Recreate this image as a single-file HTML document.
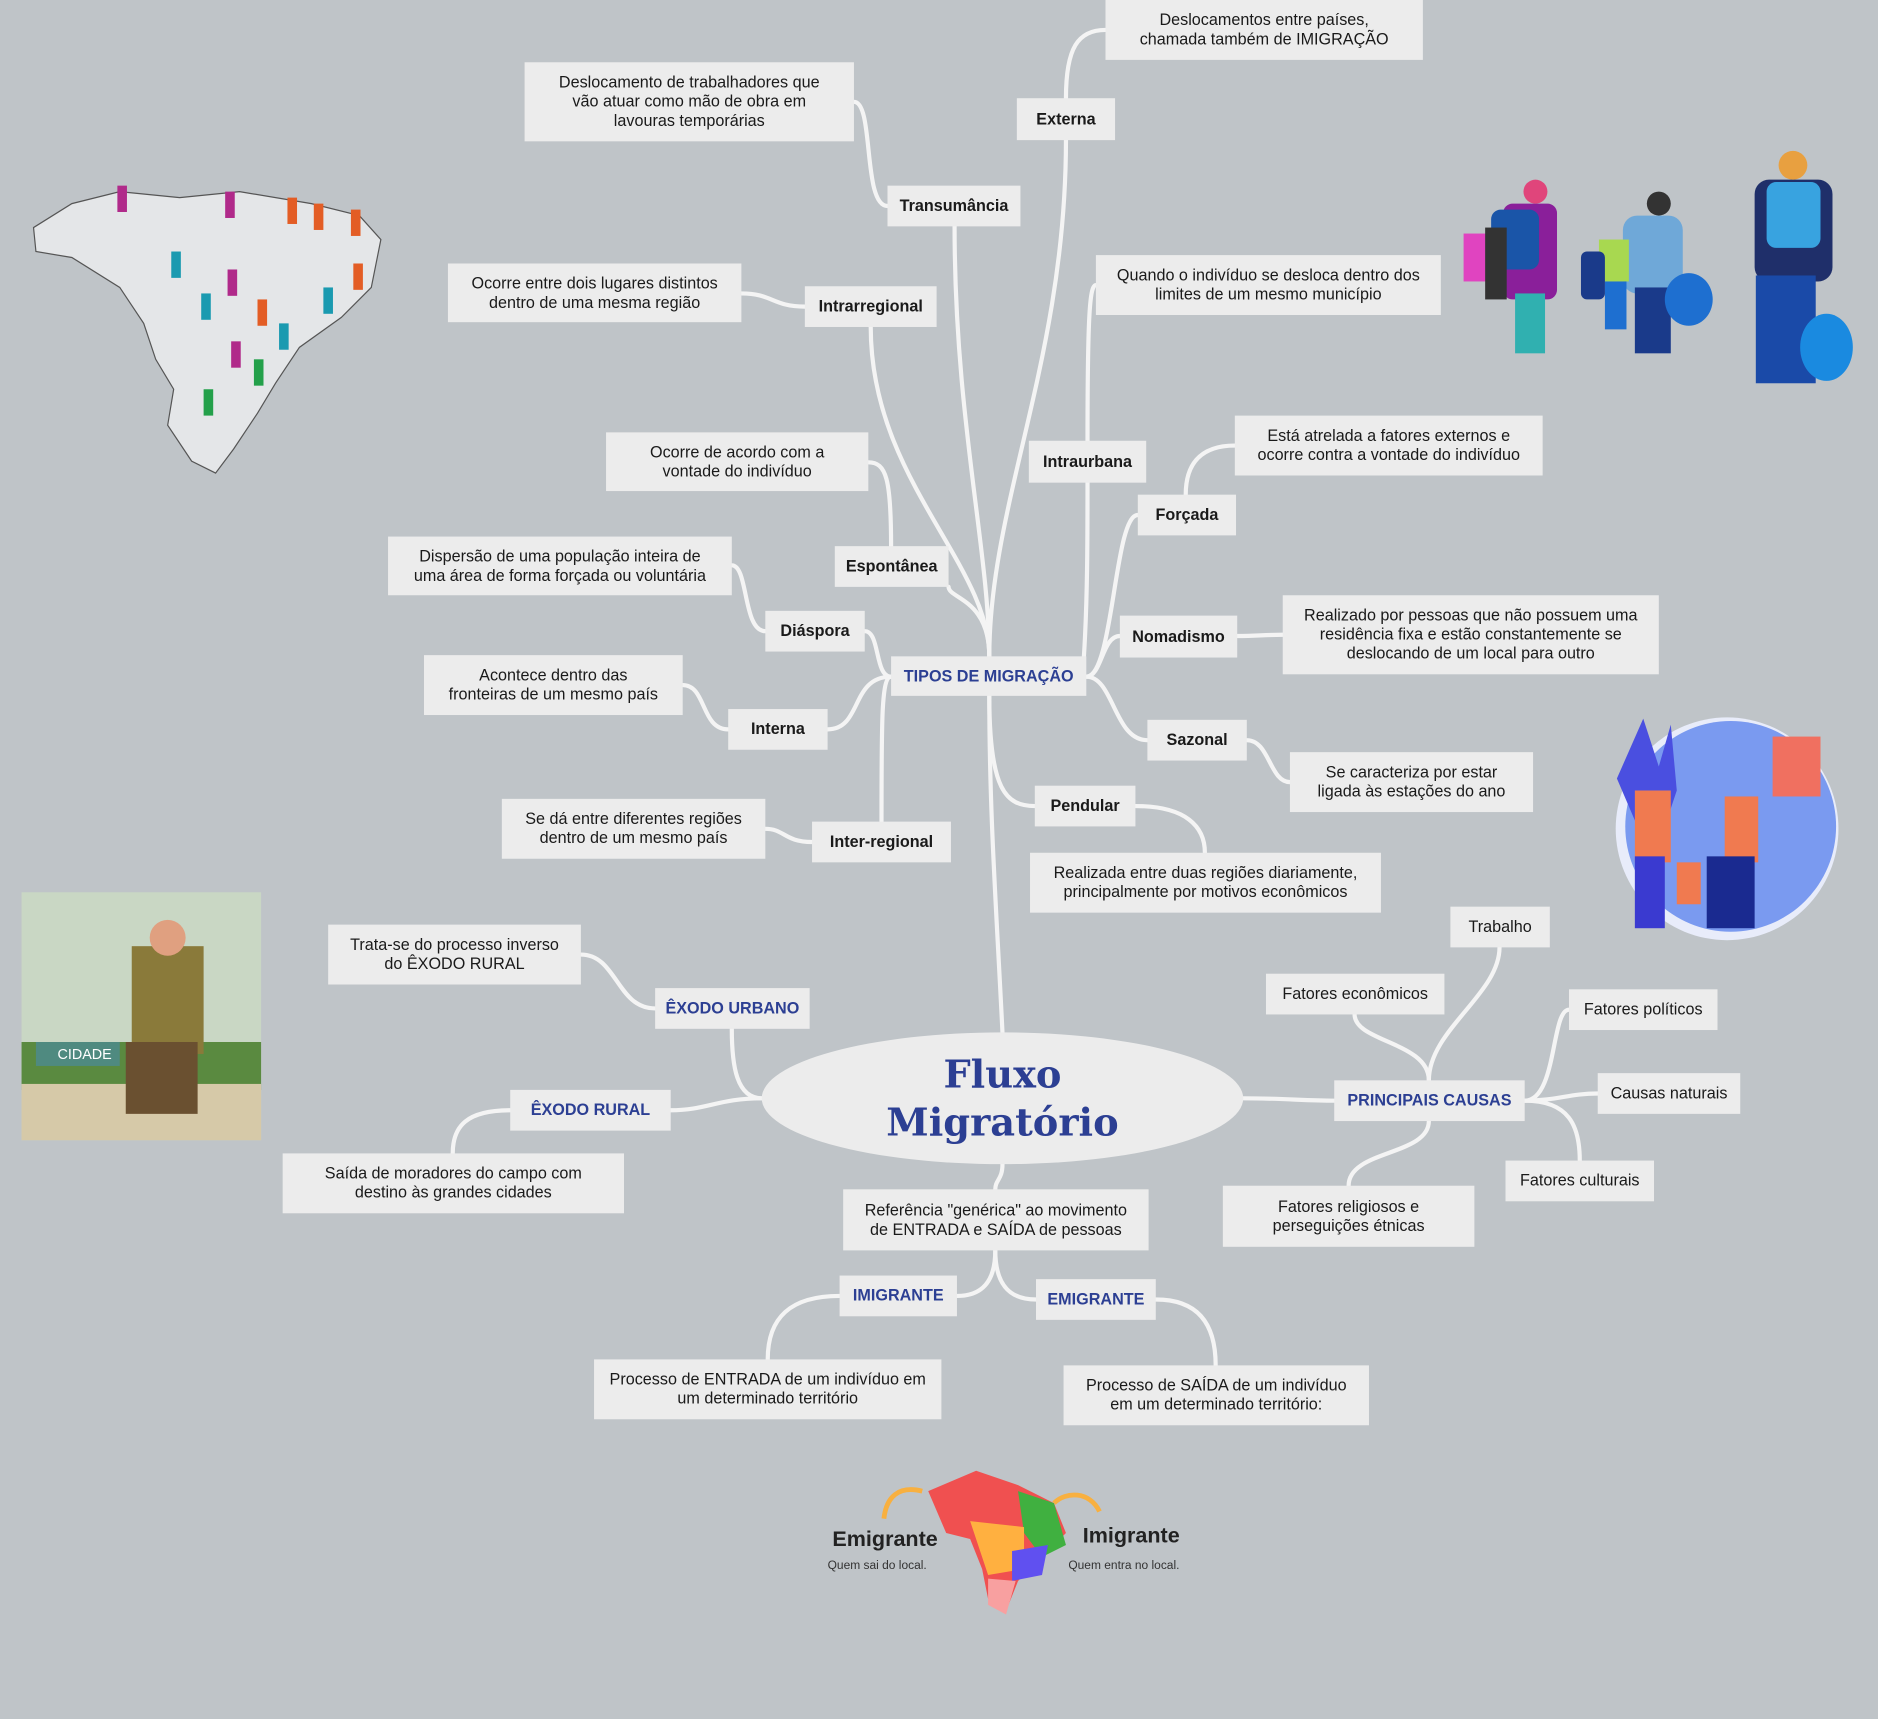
<!DOCTYPE html>
<html><head><meta charset="utf-8">
<style>
html,body{margin:0;padding:0;background:#bfc4c8;}
#wrap{position:absolute;left:0;top:0;width:1568px;height:1435px;transform:scale(1.19770);transform-origin:0 0;overflow:hidden;background:#bfc4c8;font-family:"Liberation Sans",sans-serif;}
.n{position:absolute;background:#ececec;display:flex;align-items:center;justify-content:center;text-align:center;font-size:13.5px;line-height:16px;color:#1a1a1a;box-sizing:border-box;padding:0 4px;white-space:nowrap;}
.b{font-weight:bold;font-size:13.5px;}
.t{font-weight:bold;color:#2c3f93;}
svg{position:absolute;left:0;top:0;}
</style></head><body>
<div id="wrap">
<svg width="1568" height="1435" viewBox="0 0 1568 1435">
<g fill="none" stroke="#f4f4f4" stroke-width="3.5" stroke-linecap="round">
<path d="M837 862 C832 760 826 680 826 581"/>
<path d="M826 548 C826 420 890 300 890 117"/>
<path d="M826 548 C826 460 797 350 797 189"/>
<path d="M826 548 C826 470 727 400 727 273"/>
<path d="M905 548 C908 500 908 450 908 403"/>
<path d="M826 548 C826 500 792 500 792 490"/>
<path d="M907 565 C930 565 930 430 950 430"/>
<path d="M907 565 C920 565 920 531 935 531"/>
<path d="M907 565 C930 565 930 618 958 618"/>
<path d="M826 581 C826 660 840 673 864 673"/>
<path d="M744 565 C736 565 736 600 736 686"/>
<path d="M744 565 C710 565 720 609 691 609"/>
<path d="M744 565 C730 565 735 527 722 527"/>
<path d="M890 82 C890 40 900 25 923 25"/>
<path d="M741 172 C720 172 730 85 713 85"/>
<path d="M672 256 C645 256 645 245 619 245"/>
<path d="M908 368 C908 260 910 238 915 238"/>
<path d="M990 413 C990 390 1000 372 1031 372"/>
<path d="M744 456 C744 400 740 386 725 386"/>
<path d="M639 527 C620 527 625 472 611 472"/>
<path d="M1033 531 C1050 531 1055 530 1071 530"/>
<path d="M608 609 C585 609 590 572 570 572"/>
<path d="M1041 618 C1060 618 1060 653 1077 653"/>
<path d="M948 673 C990 673 1006 690 1006 712"/>
<path d="M678 703 C655 703 655 692 639 692"/>
<path d="M636 917 C615 917 611 890 611 859"/>
<path d="M636 917 C600 917 590 927 560 927"/>
<path d="M547 842 C515 842 515 797 485 797"/>
<path d="M426 927 C390 927 378 940 378 963"/>
<path d="M1038 917 C1070 917 1090 919 1114 919"/>
<path d="M1193 902 C1193 860 1252 830 1252 791"/>
<path d="M1193 902 C1193 870 1131 870 1131 847"/>
<path d="M1273 919 C1300 919 1295 843 1310 843"/>
<path d="M1273 919 C1300 919 1310 913 1334 913"/>
<path d="M1273 919 C1310 919 1319 940 1319 969"/>
<path d="M1193 936 C1193 965 1126 960 1126 990"/>
<path d="M837 972 C837 985 831 985 831 993"/>
<path d="M831 1044 C831 1070 820 1082 799 1082"/>
<path d="M831 1044 C831 1075 845 1085 865 1085"/>
<path d="M701 1082 C660 1082 641 1100 641 1135"/>
<path d="M965 1085 C1000 1085 1015 1105 1015 1140"/>
</g>
<ellipse cx="837" cy="917" rx="201" ry="55" fill="#ececec"/>
<text x="837" y="908" text-anchor="middle" font-family="DejaVu Serif,serif" font-weight="bold" font-size="32" fill="#2c3f93">Fluxo</text>
<text x="837" y="948" text-anchor="middle" font-family="DejaVu Serif,serif" font-weight="bold" font-size="32" fill="#2c3f93">Migratório</text>
<path d="M28 190 L60 170 L100 160 L150 165 L200 160 L260 170 L300 180 L318 200 L310 240 L285 265 L250 290 L230 320 L215 345 L195 375 L180 395 L160 385 L140 355 L145 325 L130 300 L120 270 L100 240 L60 215 L30 210 Z" fill="#e4e6e8" stroke="#555" stroke-width="1"/>
<g fill="#b02a8a"><rect x="98" y="155" width="8" height="22"/><rect x="188" y="160" width="8" height="22"/><rect x="190" y="225" width="8" height="22"/><rect x="193" y="285" width="8" height="22"/></g>
<g fill="#e35d25"><rect x="240" y="165" width="8" height="22"/><rect x="262" y="170" width="8" height="22"/><rect x="293" y="175" width="8" height="22"/><rect x="215" y="250" width="8" height="22"/><rect x="295" y="220" width="8" height="22"/></g>
<g fill="#1a9ab0"><rect x="143" y="210" width="8" height="22"/><rect x="168" y="245" width="8" height="22"/><rect x="233" y="270" width="8" height="22"/><rect x="270" y="240" width="8" height="22"/></g>
<g fill="#23a04a"><rect x="170" y="325" width="8" height="22"/><rect x="212" y="300" width="8" height="22"/></g>
<g>
<rect x="1255" y="170" width="45" height="80" fill="#8a1f9a" rx="8"/><rect x="1245" y="175" width="40" height="50" fill="#1a55a8" rx="8"/><rect x="1265" y="245" width="25" height="50" fill="#30b0b0"/><circle cx="1282" cy="160" r="10" fill="#e0457b"/>
<rect x="1222" y="195" width="22" height="40" fill="#e044c0"/><rect x="1240" y="190" width="18" height="60" fill="#333"/>
<rect x="1355" y="180" width="50" height="65" fill="#6fa8d8" rx="12"/><rect x="1365" y="240" width="30" height="55" fill="#1a3a8a"/><circle cx="1385" cy="170" r="10" fill="#333"/><ellipse cx="1410" cy="250" rx="20" ry="22" fill="#1e6fd0"/>
<rect x="1335" y="200" width="25" height="35" fill="#a8d850"/><rect x="1340" y="235" width="18" height="40" fill="#1e6fd0"/><rect x="1320" y="210" width="20" height="40" fill="#1a3a8a" rx="5"/>
<rect x="1465" y="150" width="65" height="85" fill="#1f2f6a" rx="12"/><rect x="1475" y="152" width="45" height="55" fill="#38a3e0" rx="8"/><rect x="1466" y="230" width="50" height="90" fill="#1a4aa8"/><circle cx="1497" cy="138" r="12" fill="#e8a040"/><ellipse cx="1525" cy="290" rx="22" ry="28" fill="#1a8ae0"/>
</g>
<circle cx="1442" cy="692" r="93" fill="#e8ecfa"/><circle cx="1445" cy="690" r="88" fill="#7a9af0"/>
<path d="M1350 650 L1372 600 L1385 640 L1395 605 L1400 660 L1380 720 Z" fill="#4a4fe0"/>
<rect x="1480" y="615" width="40" height="50" fill="#f07060"/>
<rect x="1365" y="660" width="30" height="60" fill="#f07a50"/><rect x="1365" y="715" width="25" height="60" fill="#3a3ad0"/>
<rect x="1440" y="665" width="28" height="55" fill="#f07a50"/><rect x="1425" y="715" width="40" height="60" fill="#1a2a90"/>
<rect x="1400" y="720" width="20" height="35" fill="#f07a50"/>
<rect x="18" y="745" width="200" height="207" fill="#c9d7c4"/><rect x="18" y="870" width="200" height="40" fill="#5a8a40"/><rect x="18" y="905" width="200" height="47" fill="#d6c9a8"/>
<rect x="30" y="870" width="70" height="20" fill="#4f8a80"/><text x="48" y="884" font-size="12" fill="#fff" font-family="Liberation Sans">CIDADE</text>
<rect x="110" y="790" width="60" height="90" fill="#8a7a3a"/><circle cx="140" cy="783" r="15" fill="#e0a080"/><rect x="105" y="870" width="60" height="60" fill="#6a5030"/>
<path d="M775 1245 L815 1228 L850 1240 L880 1255 L890 1280 L870 1300 L850 1320 L840 1345 L825 1335 L820 1310 L810 1285 L790 1280 Z" fill="#f05050"/>
<path d="M850 1245 L880 1255 L890 1290 L870 1300 L855 1280 Z" fill="#40b040"/>
<path d="M810 1270 L855 1275 L855 1310 L825 1315 Z" fill="#ffb040"/>
<path d="M845 1295 L875 1290 L870 1315 L845 1320 Z" fill="#6050f0"/>
<path d="M825 1318 L848 1320 L840 1348 L825 1340 Z" fill="#f8a0a0"/>
<path d="M770 1245 C750 1240 740 1250 738 1268" stroke="#f8b040" stroke-width="4" fill="none"/>
<path d="M880 1255 C890 1245 910 1245 918 1262" stroke="#f8b040" stroke-width="4" fill="none"/>
<text x="695" y="1291" font-size="18" font-weight="bold" fill="#222" font-family="Liberation Sans">Emigrante</text>
<text x="691" y="1310" font-size="10" fill="#333" font-family="Liberation Sans">Quem sai do local.</text>
<text x="904" y="1288" font-size="18" font-weight="bold" fill="#222" font-family="Liberation Sans">Imigrante</text>
<text x="892" y="1310" font-size="10" fill="#333" font-family="Liberation Sans">Quem entra no local.</text>
</svg>

<div class="n" style="left:923px;top:0;width:265px;height:50px">Deslocamentos entre países,<br>chamada também de IMIGRAÇÃO</div>
<div class="n b" style="left:849px;top:82px;width:82px;height:35px">Externa</div>
<div class="n" style="left:438px;top:52px;width:275px;height:66px">Deslocamento de trabalhadores que<br>vão atuar como mão de obra em<br>lavouras temporárias</div>
<div class="n b" style="left:741px;top:155px;width:111px;height:34px">Transumância</div>
<div class="n" style="left:374px;top:220px;width:245px;height:49px">Ocorre entre dois lugares distintos<br>dentro de uma mesma região</div>
<div class="n b" style="left:672px;top:239px;width:110px;height:34px">Intrarregional</div>
<div class="n" style="left:915px;top:213px;width:288px;height:50px">Quando o indivíduo se desloca dentro dos<br>limites de um mesmo município</div>
<div class="n b" style="left:859px;top:368px;width:98px;height:35px">Intraurbana</div>
<div class="n" style="left:1031px;top:347px;width:257px;height:50px">Está atrelada a fatores externos e<br>ocorre contra a vontade do indivíduo</div>
<div class="n b" style="left:950px;top:413px;width:82px;height:34px">Forçada</div>
<div class="n" style="left:506px;top:361px;width:219px;height:49px">Ocorre de acordo com a<br>vontade do indivíduo</div>
<div class="n b" style="left:697px;top:456px;width:95px;height:34px">Espontânea</div>
<div class="n" style="left:324px;top:448px;width:287px;height:49px">Dispersão de uma população inteira de<br>uma área de forma forçada ou voluntária</div>
<div class="n b" style="left:639px;top:510px;width:83px;height:34px">Diáspora</div>
<div class="n b" style="left:935px;top:514px;width:98px;height:35px">Nomadismo</div>
<div class="n" style="left:1071px;top:497px;width:314px;height:66px">Realizado por pessoas que não possuem uma<br>residência fixa e estão constantemente se<br>deslocando de um local para outro</div>
<div class="n t" style="left:744px;top:548px;width:163px;height:33px">TIPOS DE MIGRAÇÃO</div>
<div class="n" style="left:354px;top:547px;width:216px;height:50px">Acontece dentro das<br>fronteiras de um mesmo país</div>
<div class="n b" style="left:608px;top:592px;width:83px;height:34px">Interna</div>
<div class="n b" style="left:958px;top:601px;width:83px;height:34px">Sazonal</div>
<div class="n" style="left:1077px;top:628px;width:203px;height:50px">Se caracteriza por estar<br>ligada às estações do ano</div>
<div class="n b" style="left:864px;top:656px;width:84px;height:34px">Pendular</div>
<div class="n" style="left:419px;top:667px;width:220px;height:50px">Se dá entre diferentes regiões<br>dentro de um mesmo país</div>
<div class="n b" style="left:678px;top:686px;width:116px;height:34px">Inter-regional</div>
<div class="n" style="left:860px;top:712px;width:293px;height:50px">Realizada entre duas regiões diariamente,<br>principalmente por motivos econômicos</div>
<div class="n" style="left:1211px;top:757px;width:83px;height:34px">Trabalho</div>
<div class="n" style="left:274px;top:772px;width:211px;height:50px">Trata-se do processo inverso<br>do ÊXODO RURAL</div>
<div class="n" style="left:1057px;top:813px;width:149px;height:34px">Fatores econômicos</div>
<div class="n" style="left:1310px;top:826px;width:124px;height:34px">Fatores políticos</div>
<div class="n t" style="left:547px;top:825px;width:129px;height:34px">ÊXODO URBANO</div>
<div class="n t" style="left:1114px;top:902px;width:159px;height:34px">PRINCIPAIS CAUSAS</div>
<div class="n" style="left:1334px;top:896px;width:119px;height:34px">Causas naturais</div>
<div class="n t" style="left:426px;top:910px;width:134px;height:34px">ÊXODO RURAL</div>
<div class="n" style="left:236px;top:963px;width:285px;height:50px">Saída de moradores do campo com<br>destino às grandes cidades</div>
<div class="n" style="left:1257px;top:969px;width:124px;height:34px">Fatores culturais</div>
<div class="n" style="left:704px;top:993px;width:255px;height:51px">Referência "genérica" ao movimento<br>de ENTRADA e SAÍDA de pessoas</div>
<div class="n" style="left:1021px;top:990px;width:210px;height:51px">Fatores religiosos e<br>perseguições étnicas</div>
<div class="n t" style="left:701px;top:1065px;width:98px;height:34px">IMIGRANTE</div>
<div class="n t" style="left:865px;top:1068px;width:100px;height:34px">EMIGRANTE</div>
<div class="n" style="left:496px;top:1135px;width:290px;height:50px">Processo de ENTRADA de um indivíduo em<br>um determinado território</div>
<div class="n" style="left:888px;top:1140px;width:255px;height:50px">Processo de SAÍDA de um indivíduo<br>em um determinado território:</div>
</div>
</body></html>
